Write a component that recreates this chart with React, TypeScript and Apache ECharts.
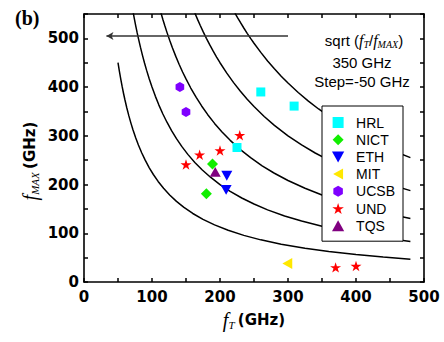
import React, { useEffect, useRef } from "react";
import * as echarts from "echarts";

// ---- data ----
const groupNames = ["HRL", "NICT", "ETH", "MIT", "UCSB", "UND", "TQS"];
const hrl = [[260, 390], [309, 361], [225, 276]];
const nict = [[189, 242], [180, 181]];
const eth = [[210, 218], [209, 189]];
const mit = [[299, 38]];
const ucsb = [[141, 400], [150, 349]];
const und = [[150, 241], [170, 261], [200, 270], [229, 301], [370, 30], [400, 33]];
const tqs = [[193, 226]];

// constant sqrt(fT*fMAX) curves: 350, 300, 250, 200, 150 GHz
const curve350 = [[222, 551.8], [226, 542.0], [230, 532.6], [235, 521.3], [240, 510.4], [245, 500], [250, 490], [260, 471.2], [270, 453.7], [280, 437.5], [290, 422.4], [300, 408.3], [315, 388.9], [330, 371.2], [345, 355.1], [360, 340.3], [380, 322.4], [400, 306.3], [420, 291.7], [440, 278.4], [460, 266.3], [480, 255.2]];
const curve300 = [[163, 552.1], [167, 538.9], [171, 526.3], [175, 514.3], [180, 500], [185, 486.5], [190, 473.7], [195, 461.5], [200, 450], [210, 428.6], [220, 409.1], [230, 391.3], [240, 375], [250, 360], [265, 339.6], [280, 321.4], [300, 300], [320, 281.3], [340, 264.7], [360, 250], [385, 233.8], [410, 219.5], [445, 202.2], [480, 187.5]];
const curve250 = [[113, 553.1], [116, 538.8], [119, 525.2], [122, 512.3], [126, 496.0], [130, 480.8], [135, 463.0], [140, 446.4], [145, 431.0], [150, 416.7], [157, 398.1], [165, 378.8], [173, 361.3], [182, 343.4], [192, 325.5], [203, 307.9], [215, 290.7], [230, 271.7], [245, 255.1], [262, 238.5], [280, 223.2], [300, 208.3], [325, 192.3], [350, 178.6], [380, 164.5], [410, 152.4], [445, 140.4], [480, 130.2]];
const curve200 = [[72, 555.6], [74, 540.5], [76, 526.3], [78, 512.8], [80, 500], [83, 481.9], [86, 465.1], [89, 449.4], [92, 434.8], [96, 416.7], [100, 400], [105, 381.0], [110, 363.6], [116, 344.8], [122, 327.9], [129, 310.1], [136, 294.1], [144, 277.8], [153, 261.4], [163, 245.4], [174, 229.9], [186, 215.1], [200, 200], [215, 186.0], [232, 172.4], [250, 160], [270, 148.1], [295, 135.6], [320, 125], [350, 114.3], [380, 105.3], [415, 96.4], [450, 88.9], [480, 83.3]];
const curve150 = [[50, 450], [52, 432.7], [54, 416.7], [56, 401.8], [58, 387.9], [60, 375], [63, 357.1], [66, 340.9], [69, 326.1], [72, 312.5], [76, 296.1], [80, 281.3], [85, 264.7], [90, 250], [96, 234.4], [102, 220.6], [109, 206.4], [117, 192.3], [126, 178.6], [136, 165.4], [147, 153.1], [160, 140.6], [175, 128.6], [192, 117.2], [212, 106.1], [235, 95.7], [260, 86.5], [290, 77.6], [325, 69.2], [360, 62.5], [400, 56.3], [440, 51.1], [480, 46.9]];
const arrowLine = [[300, 505], [33, 505]];

const xTicks = [0, 100, 200, 300, 400, 500];
const yTicks = [0, 100, 200, 300, 400, 500];

const SQUARE = "path://M-1,-1 L1,-1 L1,1 L-1,1Z";
const DIAMOND = "path://M0,-1 L1,0 L0,1 L-1,0Z";
const TRI_UP = "path://M0,-1 L1,0.8 L-1,0.8Z";
const TRI_DOWN = "path://M-1,-0.8 L1,-0.8 L0,1Z";
const TRI_LEFT = "path://M-0.8,0 L1,-1 L1,1Z";
const STAR = "path://M0,-1 L0.2245,-0.309 L0.951,-0.309 L0.363,0.118 L0.588,0.809 L0,0.382 L-0.588,0.809 L-0.363,0.118 L-0.951,-0.309 L-0.2245,-0.309Z";
const HEX = "path://M0,-1 L0.866,-0.5 L0.866,0.5 L0,1 L-0.866,0.5 L-0.866,-0.5Z";

const TICK_FONT = "DejaVu Sans";

export default function App() {
  const ref = useRef<HTMLDivElement>(null);
  useEffect(() => {
    const chart = echarts.init(ref.current!, null, { renderer: "svg" });
    const axisCommon = {
      type: "value" as const,
      axisLine: { show: true, onZero: false, lineStyle: { color: "#000", width: 1.6 } },
      axisTick: { show: true, inside: true, length: 4, lineStyle: { color: "#000", width: 1.5 } },
      splitLine: { show: false },
    };
    const curveSeries = (d: number[][]) => ({
      type: "line",
      data: d,
      showSymbol: false,
      smooth: false,
      silent: true,
      lineStyle: { color: "#000", width: 1.5 },
      z: 2,
    });
    const sc = (name: string, data: number[][], symbol: string, size: number, color: string) => ({
      type: "scatter",
      name,
      data,
      symbol,
      symbolSize: size,
      symbolKeepAspect: true,
      itemStyle: { color, opacity: 1 },
      z: 5,
    });
    const option: any = {
      animation: false,
      grid: { left: 84, right: 20, top: 14, bottom: 60 },
      xAxis: [
        {
          ...axisCommon,
          min: 0, max: 500, interval: 50,
          axisLabel: {
            fontFamily: TICK_FONT, fontWeight: "bold", fontSize: 15, color: "#000", margin: 7,
            formatter: (v: number) => (xTicks.includes(v) ? String(v) : ""),
          },
        },
        { ...axisCommon, position: "top", min: 0, max: 500, interval: 50, axisLabel: { show: false } },
      ],
      yAxis: [
        {
          ...axisCommon,
          min: 0, max: 550, interval: 50,
          axisLabel: {
            fontFamily: TICK_FONT, fontWeight: "bold", fontSize: 15, color: "#000", margin: 5,
            formatter: (v: number) => (yTicks.includes(v) ? String(v) : ""),
          },
        },
        { ...axisCommon, position: "right", min: 0, max: 550, interval: 50, axisLabel: { show: false } },
      ],
      legend: {
        data: groupNames,
        orient: "vertical",
        left: 322,
        top: 106,
        padding: [8, 8, 7, 10],
        itemGap: 0.2,
        itemWidth: 26,
        itemHeight: 11,
        symbolKeepAspect: true,
        backgroundColor: "#fff",
        borderColor: "#000",
        borderWidth: 1,
        borderRadius: 0,
        textStyle: { fontFamily: "Liberation Sans", fontSize: 14, color: "#000", lineHeight: 17 },
        z: 10,
      },
      series: [
        curveSeries(curve350),
        curveSeries(curve300),
        curveSeries(curve250),
        curveSeries(curve200),
        curveSeries(curve150),
        {
          type: "line",
          data: [],
          silent: true,
          markLine: {
            silent: true,
            symbol: ["none", "arrow"],
            symbolSize: [6, 7],
            label: { show: false },
            lineStyle: { color: "#333", width: 1.5, type: "solid" },
            data: [[{ coord: arrowLine[0] }, { coord: arrowLine[1] }]],
          },
        },
        sc("HRL", hrl, SQUARE, 9, "#00ffff"),
        sc("NICT", nict, DIAMOND, 11, "#11ee00"),
        sc("ETH", eth, TRI_DOWN, 11, "#0000ff"),
        sc("MIT", mit, TRI_LEFT, 11, "#ffe800"),
        sc("UCSB", ucsb, HEX, 10, "#7f00ff"),
        sc("UND", und, STAR, 11, "#ff0000"),
        sc("TQS", tqs, TRI_UP, 11, "#800080"),
      ],
      graphic: [
        {
          type: "text", left: 15, top: 8,
          style: { text: "(b)", font: "bold 20px 'Liberation Serif'", fill: "#000" },
        },
        {
          type: "text", x: 254, y: 320,
          style: {
            text: "{f|f}{s|T} {b|(GHz)}",
            align: "center", verticalAlign: "middle",
            rich: {
              f: { fontFamily: "Liberation Serif", fontStyle: "italic", fontSize: 20, fill: "#000" },
              s: { fontFamily: "Liberation Serif", fontStyle: "italic", fontSize: 11, padding: [10, 0, 0, 0], fill: "#000" },
              b: { fontFamily: TICK_FONT, fontWeight: "bold", fontSize: 15, fill: "#000" },
            },
          },
        },
        {
          type: "text", x: 30, y: 161, rotation: Math.PI / 2,
          style: {
            text: "{f|f}{s|MAX} {b|(GHz)}",
            align: "center", verticalAlign: "middle",
            rich: {
              f: { fontFamily: "Liberation Serif", fontStyle: "italic", fontSize: 20, fill: "#000" },
              s: { fontFamily: "Liberation Serif", fontStyle: "italic", fontSize: 11, padding: [10, 0, 0, 0], fill: "#000" },
              b: { fontFamily: TICK_FONT, fontWeight: "bold", fontSize: 15, fill: "#000" },
            },
          },
        },
        {
          type: "text", x: 364, y: 40,
          style: {
            text: "{n|sqrt (}{f|f}{s|T}{n|/}{f|f}{s|MAX}{n|)}",
            align: "center", verticalAlign: "middle",
            rich: {
              n: { fontFamily: "Liberation Sans", fontSize: 15, fill: "#000" },
              f: { fontFamily: "Liberation Serif", fontStyle: "italic", fontSize: 16, fill: "#000" },
              s: { fontFamily: "Liberation Serif", fontStyle: "italic", fontSize: 10, padding: [8, 0, 0, 0], fill: "#000" },
            },
          },
        },
        {
          type: "text", x: 362, y: 62,
          style: { text: "350 GHz", font: "15px 'Liberation Sans'", fill: "#000", align: "center", verticalAlign: "middle" },
        },
        {
          type: "text", x: 362, y: 81,
          style: { text: "Step=-50 GHz", font: "15px 'Liberation Sans'", fill: "#000", align: "center", verticalAlign: "middle" },
        },
      ],
    };
    chart.setOption(option);
    return () => chart.dispose();
  }, []);
  return <div ref={ref} style={{ width: 444, height: 342, position: "absolute", left: 0, top: 0 }} />;
}
